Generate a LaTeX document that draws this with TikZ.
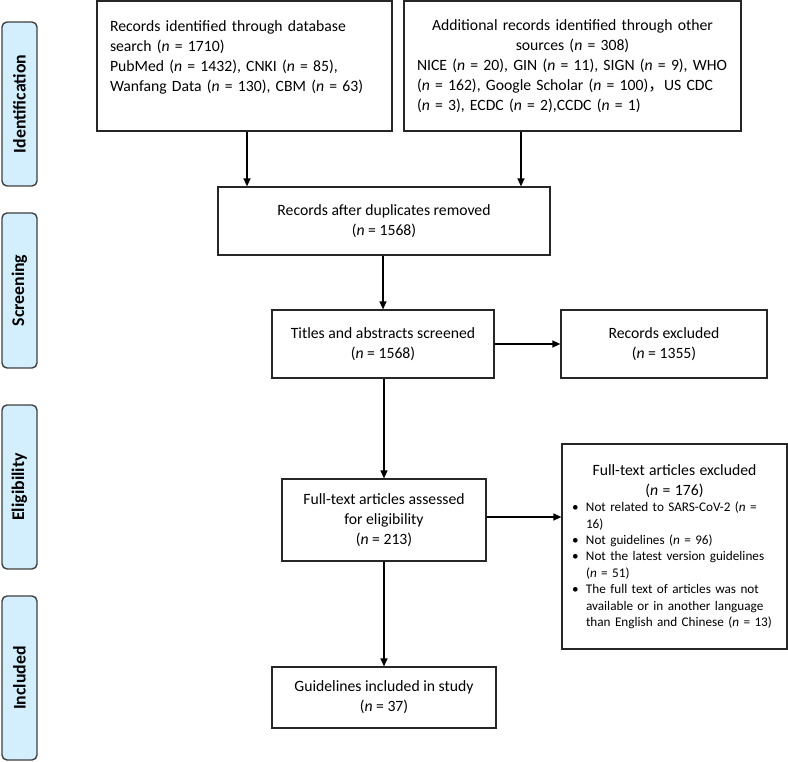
\documentclass[tikz,border=0pt]{standalone}
\usepackage{fontspec}
\setmainfont{Carlito}
\newfontfamily\cjk{Noto Sans CJK SC}
\usetikzlibrary{arrows.meta}

\definecolor{phaseblue}{RGB}{211,238,252}
\newcommand{\bul}{\makebox[14pt][l]{\textbullet}}
\newcommand{\cont}{\hspace*{14pt}}

\begin{document}
\begin{tikzpicture}[x=1pt,y=-1pt,
  box/.style={draw=black!85,line width=1.2pt,inner sep=0pt,font=\fontsize{15.7}{20}\selectfont},
  phase/.style={draw=black!75,line width=1.4pt,fill=phaseblue,rounded corners=5pt,rotate=90,
    minimum height=35pt,inner sep=0pt,font=\fontsize{17.8}{19}\selectfont\bfseries},
  arr/.style={-{Triangle[length=8pt,width=7pt]},line width=1.3pt}]
  \useasboundingbox (0,0) rectangle (788,762);

  \node[phase,minimum width=164pt] (ident) at (19.5,104) {Identification};
  \node[phase,minimum width=155pt] (screen) at (19.5,290.5) {Screening};
  \node[phase,minimum width=164pt] (elig) at (19.5,487) {Eligibility};
  \node[phase,minimum width=164pt] (incl) at (19.5,678) {Included};

  \node[box,minimum width=295pt,minimum height=130pt,text width=269pt,align=left] (db) at (244.5,66)
    {Records identified through database\\ search (\textit{n} = 1710)\\
     PubMed (\textit{n} = 1432), CNKI (\textit{n} = 85),\\
     Wanfang Data (\textit{n} = 130), CBM (\textit{n} = 63)\\ \mbox{}};
  \node[box,minimum width=337pt,minimum height=130pt,text width=311pt,align=left] (other) at (572.5,66)
    {\makebox[311pt]{Additional records identified through other}\\
     \makebox[311pt]{sources (\textit{n} = 308)}\\
     NICE (\textit{n} = 20), GIN (\textit{n} = 11), SIGN (\textit{n} = 9), WHO\\
     (\textit{n} = 162), Google Scholar (\textit{n} = 100){\cjk ，}US CDC\\
     (\textit{n} = 3), ECDC (\textit{n} = 2),CCDC (\textit{n} = 1)};
  \node[box,minimum width=332pt,minimum height=68pt,align=center] (dedup) at (384,221)
    {Records after duplicates removed\\ (\textit{n} = 1568)};
  \node[box,minimum width=222pt,minimum height=68pt,align=center] (screened) at (383,344)
    {Titles and abstracts screened\\ (\textit{n} = 1568)};
  \node[box,minimum width=206pt,minimum height=68pt,align=center] (recex) at (664,344)
    {Records excluded\\ (\textit{n} = 1355)};
  \node[box,minimum width=204pt,minimum height=82pt,align=center] (full) at (384,520)
    {Full-text articles assessed\\ for eligibility\\ (\textit{n} = 213)};
  \node[box,minimum width=225pt,minimum height=205pt,text width=205pt,align=left,
    font=\fontsize{13.2}{16.4}\selectfont] (fullex) at (674.5,546.5)
    {\makebox[205pt]{\fontsize{15.7}{20}\selectfont Full-text articles excluded}\\[3.6pt]
     \makebox[205pt]{\fontsize{15.7}{20}\selectfont (\textit{n} = 176)}\\
     \bul Not related to SARS-CoV-2 (\textit{n} =\\
     \cont 16)\\
     \bul Not guidelines (\textit{n} = 96)\\
     \bul Not the latest version guidelines\\
     \cont (\textit{n} = 51)\\
     \bul The full text of articles was not\\
     \cont available or in another language\\
     \cont than English and Chinese (\textit{n} = 13)};
  \node[box,minimum width=224pt,minimum height=61pt,align=center] (incl) at (384,697.5)
    {Guidelines included in study\\ (\textit{n} = 37)};

  \draw[arr] ([xshift=2.5pt]db.south) -- ([xshift=2.5pt]db.south |- dedup.north);
  \draw[arr] ([xshift=-51.5pt]other.south) -- ([xshift=-51.5pt]other.south |- dedup.north);
  \draw[arr] (dedup.south -| screened.north) -- (screened.north);
  \draw[arr] (screened.east) -- (recex.west);
  \draw[arr] (screened.south -| full.north) -- (full.north);
  \draw[arr] ([yshift=3pt]full.east) -- ([yshift=3pt]full.east -| fullex.west);
  \draw[arr] (full.south) -- (incl.north);
\end{tikzpicture}
\end{document}
